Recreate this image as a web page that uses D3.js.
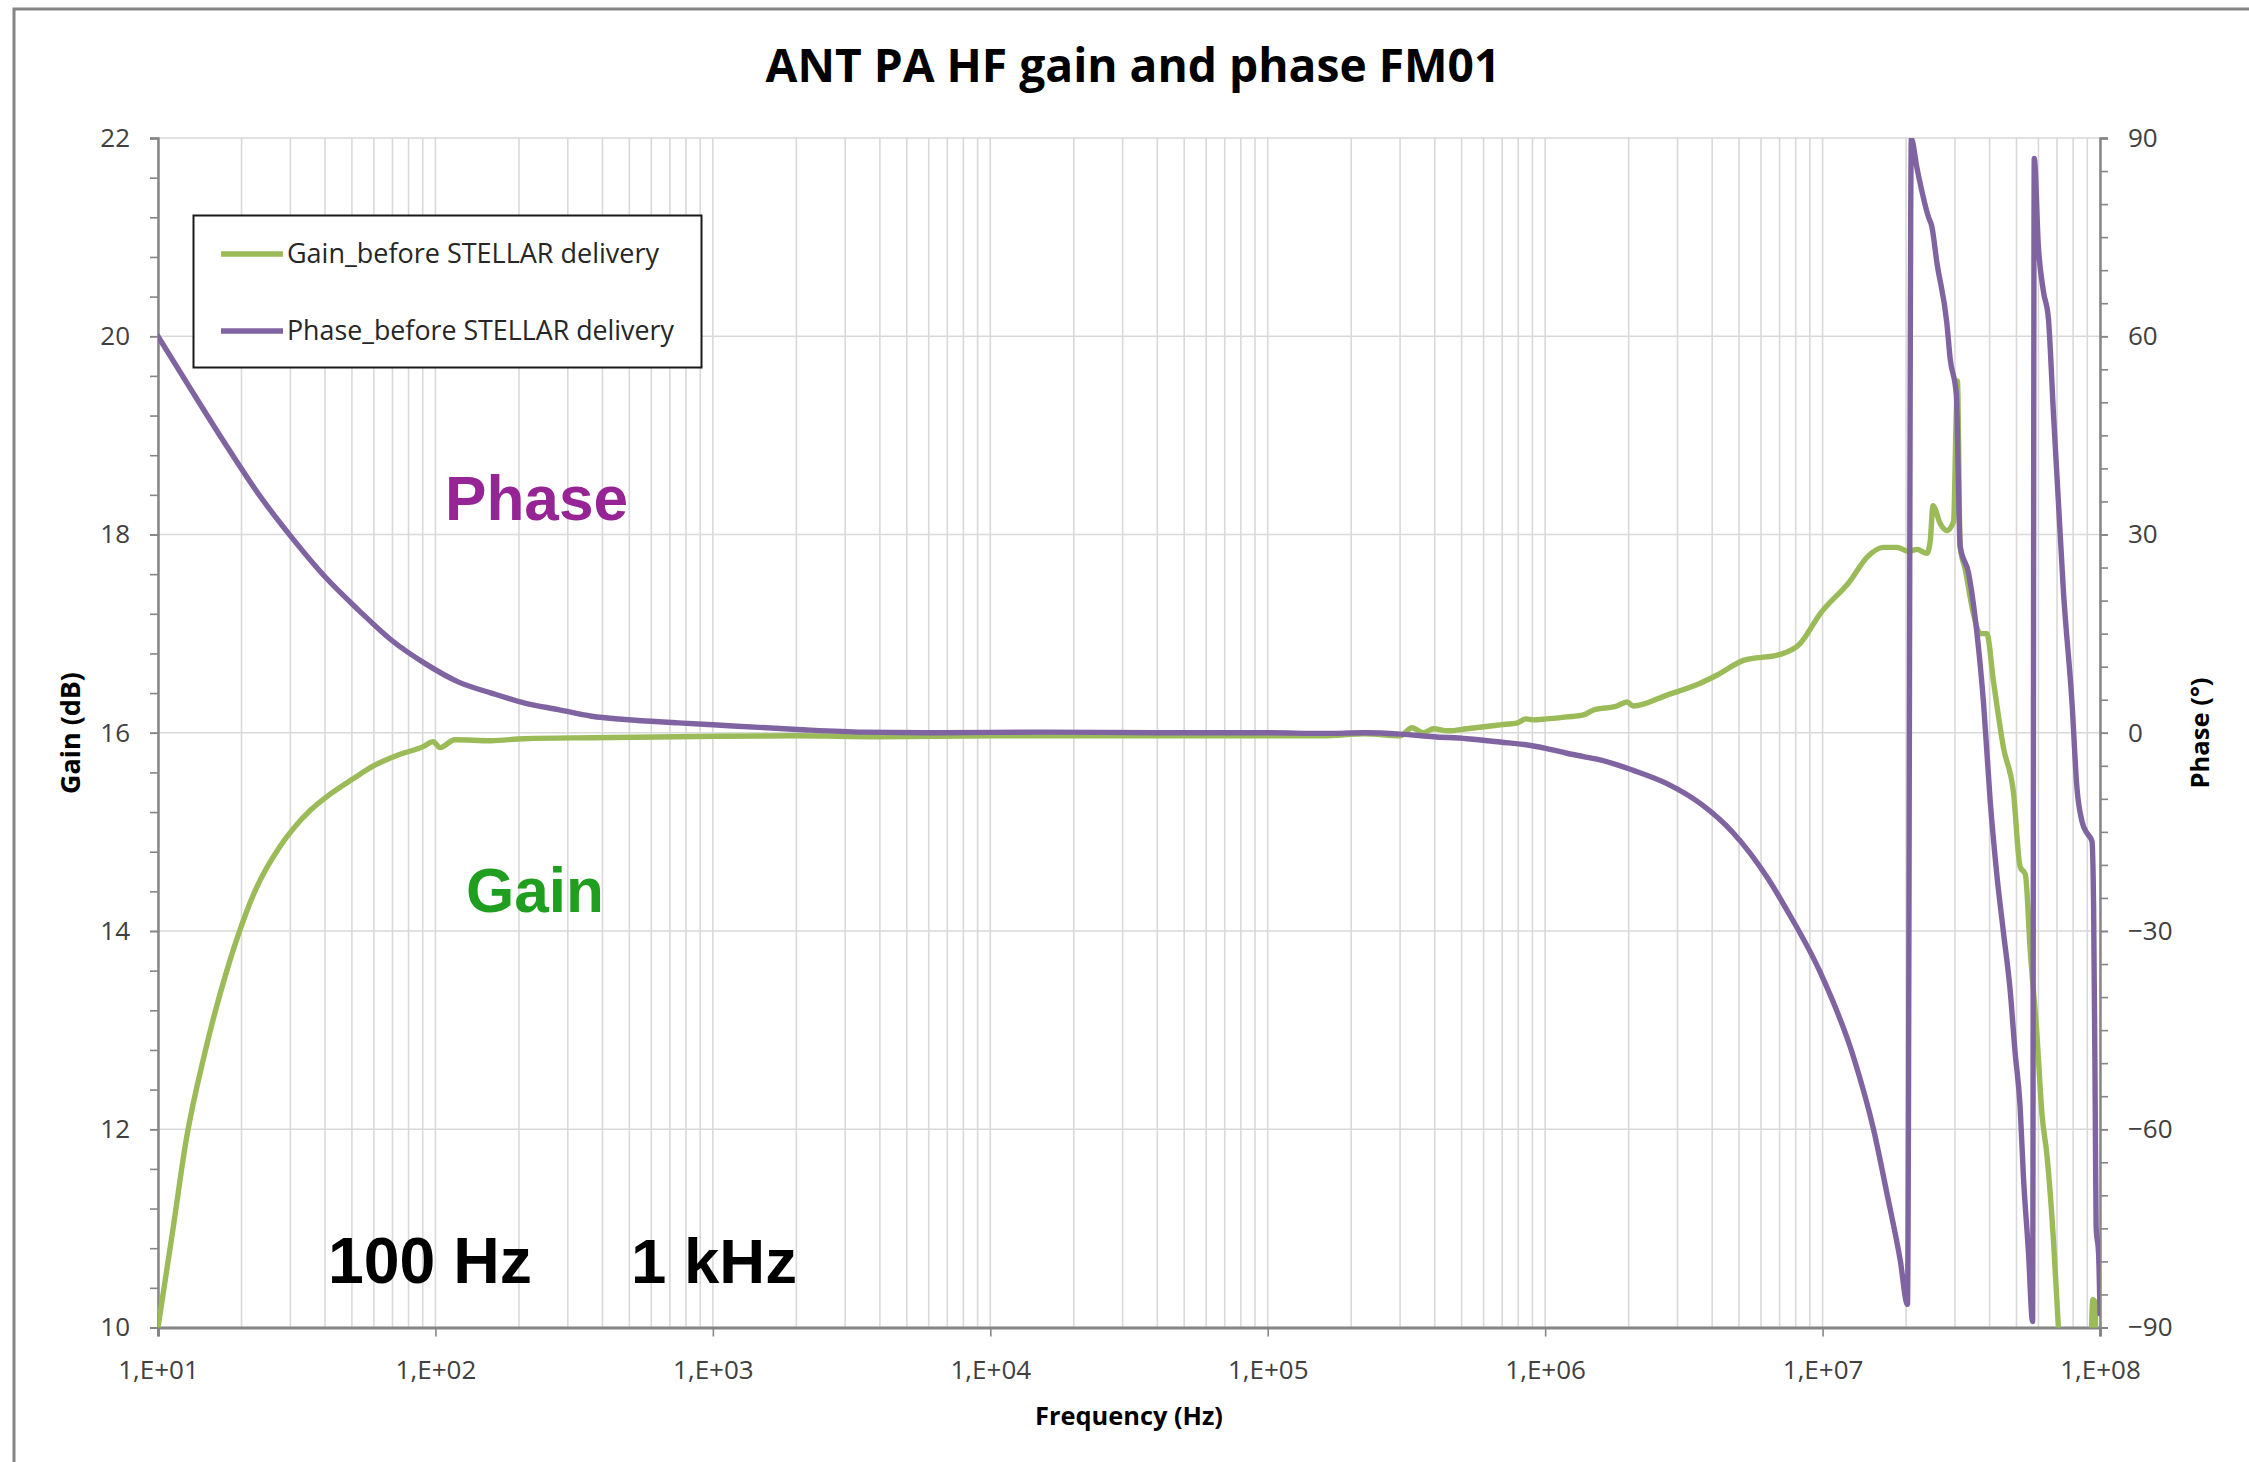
<!DOCTYPE html>
<html>
<head>
<meta charset="utf-8">
<script src="https://cdn.jsdelivr.net/npm/d3@7"></script>
<style>
  body { margin: 0; background: #fff; }
  svg { display: block; }
</style>
</head>
<body>
<svg id="chart" width="2249" height="1462"></svg>
<script>
// ---- data ----
const chartTitle = "ANT PA HF gain and phase FM01";
const seriesNames = ["Gain_before STELLAR delivery", "Phase_before STELLAR delivery"];

const xTickValues = [1e1, 1e2, 1e3, 1e4, 1e5, 1e6, 1e7, 1e8];
const xTickLabels = ["1,E+01", "1,E+02", "1,E+03", "1,E+04", "1,E+05", "1,E+06", "1,E+07", "1,E+08"];
const gainTicks = [10, 12, 14, 16, 18, 20, 22];
const phaseTicks = [-90, -60, -30, 0, 30, 60, 90];

// Gain sweep (Hz, dB)
const gainFreq = [
  10, 11.32, 12.65, 14.72, 17.66, 19.41, 22.34, 27.48, 30.69, 35.48,
  41.69, 50.12, 60.26, 74.13, 90.36, 98.17, 103.8, 117.5, 158.5, 208.9,
  363.1, 749.9, 1995, 3981, 10000, 31620, 100000, 158500, 223900, 300600,
  331100, 363100, 396300, 446700, 522400, 602600, 688700, 794300, 851100, 907800,
  1.014e6, 1.197e6, 1.374e6, 1.493e6, 1.816e6, 1.972e6, 2.080e6, 2.748e6, 3.622e6, 4.159e6,
  5.188e6, 7.031e6, 8.299e6, 9.795e6, 1.256e7, 1.445e7, 1.660e7, 1.854e7, 2.042e7, 2.188e7,
  2.377e7, 2.443e7, 2.500e7, 2.655e7, 2.805e7, 2.965e7, 3.034e7, 3.062e7, 3.133e7, 3.266e7,
  3.499e7, 3.698e7, 3.908e7, 4.130e7, 4.487e7, 4.875e7, 5.152e7, 5.383e7, 5.598e7, 5.916e7,
  6.180e7, 6.442e7, 6.792e7, 7.079e7, 7.413e7, 9.120e7, 9.419e7, 9.616e7, 9.705e7, 1e8
];
const gainDb = [
  10.0, 10.99, 11.90, 12.76, 13.59, 13.95, 14.40, 14.85, 15.03, 15.22,
  15.38, 15.53, 15.67, 15.78, 15.86, 15.91, 15.85, 15.93, 15.92, 15.94,
  15.95, 15.96, 15.97, 15.96, 15.97, 15.97, 15.97, 15.97, 15.99, 15.97,
  16.05, 16.00, 16.04, 16.02, 16.04, 16.06, 16.08, 16.10, 16.14, 16.13,
  16.14, 16.16, 16.18, 16.23, 16.27, 16.31, 16.27, 16.38, 16.50, 16.58,
  16.73, 16.79, 16.90, 17.20, 17.53, 17.77, 17.87, 17.87, 17.83, 17.85,
  17.81, 17.93, 18.29, 18.11, 18.04, 18.13, 19.23, 19.55, 17.88, 17.65,
  17.20, 17.00, 17.00, 16.52, 15.85, 15.40, 14.65, 14.57, 13.82, 12.98,
  12.15, 11.73, 10.89, 10.0, 9.0, 9.0, 10.28, 10.25, 9.0, 9.0
];

// Phase sweep (Hz, degrees)
const phaseFreq = [
  10, 13.21, 17.42, 22.96, 30.27, 39.99, 52.72, 69.50, 91.62, 120.8,
  159.2, 209.9, 277.3, 365.6, 482.0, 749.9, 1000, 2018, 3467, 6310,
  15850, 39810, 100000, 158500, 223900, 300600, 396300, 522400, 688700, 907800,
  1.014e6, 1.197e6, 1.374e6, 1.578e6, 2.080e6, 2.748e6, 3.622e6, 4.775e6, 6.295e6, 7.430e6,
  9.795e6, 1.291e7, 1.528e7, 1.706e7, 1.905e7, 2.023e7, 2.089e7, 2.188e7, 2.410e7, 2.477e7,
  2.582e7, 2.805e7, 2.884e7, 3.034e7, 3.133e7, 3.357e7, 3.548e7, 3.802e7, 4.018e7, 4.246e7,
  4.487e7, 4.742e7, 4.943e7, 5.152e7, 5.297e7, 5.521e7, 5.715e7, 5.794e7, 5.998e7, 6.252e7,
  6.516e7, 6.792e7, 7.079e7, 7.379e7, 7.925e7, 8.260e7, 8.610e7, 9.016e7, 9.354e7, 9.484e7,
  9.616e7, 9.683e7, 9.886e7, 1e8
];
const phaseDeg = [
  60.0, 51.8, 43.8, 36.2, 29.6, 23.6, 18.6, 14.0, 10.5, 7.7,
  6.0, 4.5, 3.5, 2.5, 2.0, 1.5, 1.2, 0.5, 0.1, 0.0,
  0.1, 0.0, 0.0, -0.1, 0.0, -0.2, -0.6, -0.9, -1.4, -2.0,
  -2.4, -3.1, -3.6, -4.1, -5.7, -7.7, -10.7, -15.2, -21.8, -26.8,
  -36.2, -49.0, -60.1, -69.7, -79.8, -86.5, 89.9, 85.5, 78.0, 76.6,
  71.2, 62.0, 56.6, 51.2, 28.2, 24.2, 17.4, 4.6, -10.2, -21.4,
  -30.2, -38.9, -48.4, -56.5, -67.2, -78.5, -89.1, 86.9, 73.5, 66.8,
  62.7, 48.5, 35.0, 21.5, 4.6, -8.4, -13.4, -15.3, -16.4, -26.4,
  -57.8, -74.7, -79.0, -87.9
];

// Text call-outs drawn inside the plot
const calloutTexts = ["Phase", "Gain", "100 Hz", "1 kHz"];
const calloutColors = ["#962495", "#1f9e1f", "#000000", "#000000"];

// ---- layout ----
const GAIN_COLOR = "#9BBB59";
const PHASE_COLOR = "#8064A2";
const LINE_WIDTH = 5.4;
const plot = { left: 158, right: 2100, top: 138, bottom: 1327.5 };

const svg = d3.select("#chart");

// sizes a text node so that its rendered width equals the given width
function fitWidth(sel, width) {
  const node = sel.node();
  const fs = parseFloat(sel.attr("font-size"));
  const len = node.getComputedTextLength();
  if (len > 0) sel.attr("font-size", (fs * width / len).toFixed(2));
  return sel;
}

svg.append("rect").attr("width", 2249).attr("height", 1462).attr("fill", "#fff");

// outer chart frame
svg.append("rect")
  .attr("x", 14).attr("y", 9).attr("width", 2400).attr("height", 1600)
  .attr("fill", "none").attr("stroke", "#858585").attr("stroke-width", 3);

const x = d3.scaleLog().domain([1e1, 1e8]).range([plot.left, plot.right]);
const yGain = d3.scaleLinear().domain([10, 22]).range([plot.bottom, plot.top]);
const yPhase = d3.scaleLinear().domain([-90, 90]).range([plot.bottom, plot.top]);

// gridlines
const grid = svg.append("g").attr("stroke", "#d9d9d9").attr("stroke-width", 1.6);
const vGrid = [];
for (let e = 1; e < 8; e++) for (let k = 1; k <= 9; k++) vGrid.push(k * Math.pow(10, e));
vGrid.push(1e8);
grid.selectAll("line.v").data(vGrid).join("line").attr("class", "v")
  .attr("x1", d => x(d)).attr("x2", d => x(d))
  .attr("y1", plot.top).attr("y2", plot.bottom);
grid.selectAll("line.h").data(gainTicks).join("line").attr("class", "h")
  .attr("x1", plot.left).attr("x2", plot.right)
  .attr("y1", d => yGain(d)).attr("y2", d => yGain(d));

// axes
const FONT = "'Open Sans', 'DejaVu Sans', sans-serif";
function styleAxis(g, width) {
  g.select(".domain").attr("stroke", "#868686").attr("stroke-width", width);
  g.selectAll(".tick line").attr("stroke", "#868686").attr("stroke-width", 1.6);
  g.selectAll(".tick text").attr("fill", "#404040").attr("font-family", FONT).attr("font-size", 26);
}

const gainMinor = d3.range(0, 31).map(i => +(10 + i * 0.4).toFixed(1));
const phaseMinor = d3.range(0, 37).map(i => -90 + i * 5);

const leftMinor = svg.append("g").attr("transform", `translate(${plot.left},0)`)
  .call(d3.axisLeft(yGain).tickValues(gainMinor).tickSize(8).tickFormat(""));
styleAxis(leftMinor, 2);
const leftAxis = svg.append("g").attr("transform", `translate(${plot.left},0)`)
  .call(d3.axisLeft(yGain).tickValues(gainTicks).tickSize(8).tickPadding(20).tickFormat(d3.format("d")));
styleAxis(leftAxis, 2);

const rightMinor = svg.append("g").attr("transform", `translate(${plot.right},0)`)
  .call(d3.axisRight(yPhase).tickValues(phaseMinor).tickSize(8).tickFormat(""));
styleAxis(rightMinor, 2);
const rightAxis = svg.append("g").attr("transform", `translate(${plot.right},0)`)
  .call(d3.axisRight(yPhase).tickValues(phaseTicks).tickSize(8).tickPadding(20).tickFormat(d3.format("d")));
styleAxis(rightAxis, 2);

const bottomAxis = svg.append("g").attr("transform", `translate(0,${plot.bottom})`)
  .call(d3.axisBottom(x).tickValues(xTickValues).tickSize(9).tickPadding(24)
    .tickFormat((d, i) => xTickLabels[i]));
styleAxis(bottomAxis, 3);

// series lines, clipped to the plot area
svg.append("clipPath").attr("id", "plotClip").append("rect")
  .attr("x", plot.left).attr("y", plot.top)
  .attr("width", plot.right - plot.left).attr("height", plot.bottom - plot.top);

const series = svg.append("g").attr("clip-path", "url(#plotClip)")
  .attr("fill", "none").attr("stroke-width", LINE_WIDTH)
  .attr("stroke-linejoin", "round").attr("stroke-linecap", "round");

const gainLine = d3.line().curve(d3.curveMonotoneX)
  .x((d, i) => x(gainFreq[i])).y(d => yGain(d));
const phaseLine = d3.line().curve(d3.curveMonotoneX)
  .x((d, i) => x(phaseFreq[i])).y(d => yPhase(d));

series.append("path").datum(gainDb).attr("stroke", GAIN_COLOR).attr("d", gainLine);
series.append("path").datum(phaseDeg).attr("stroke", PHASE_COLOR).attr("d", phaseLine);

// title
fitWidth(svg.append("text")
  .attr("x", 1133).attr("y", 82).attr("text-anchor", "middle")
  .attr("font-family", FONT).attr("font-weight", 700).attr("font-size", 44)
  .attr("fill", "#000").text(chartTitle), 735);

// axis titles
fitWidth(svg.append("text")
  .attr("transform", "translate(80,733) rotate(-90)").attr("text-anchor", "middle")
  .attr("font-family", FONT).attr("font-weight", 700).attr("font-size", 24)
  .attr("fill", "#000").text("Gain (dB)"), 122);
fitWidth(svg.append("text")
  .attr("transform", "translate(2209,733) rotate(-90)").attr("text-anchor", "middle")
  .attr("font-family", FONT).attr("font-weight", 700).attr("font-size", 24)
  .attr("fill", "#000").text("Phase (°)"), 111);
fitWidth(svg.append("text")
  .attr("x", 1129).attr("y", 1425).attr("text-anchor", "middle")
  .attr("font-family", FONT).attr("font-weight", 700).attr("font-size", 24)
  .attr("fill", "#000").text("Frequency (Hz)"), 188);

// legend
const legend = svg.append("g");
legend.append("rect").attr("x", 193.5).attr("y", 215.5).attr("width", 508).attr("height", 152)
  .attr("fill", "#fff").attr("stroke", "#1a1a1a").attr("stroke-width", 2);
const legendRows = [
  { name: seriesNames[0], color: GAIN_COLOR, y: 254, w: 372 },
  { name: seriesNames[1], color: PHASE_COLOR, y: 331, w: 387 }
];
legendRows.forEach(r => {
  legend.append("line").attr("x1", 221).attr("x2", 283).attr("y1", r.y).attr("y2", r.y)
    .attr("stroke", r.color).attr("stroke-width", LINE_WIDTH);
  fitWidth(legend.append("text").attr("x", 287).attr("y", r.y).attr("dy", "0.35em")
    .attr("font-family", FONT).attr("font-size", 24).attr("fill", "#262626")
    .text(r.name), r.w);
});

// call-out labels
const calloutPos = [
  { x: 445, y: 520, w: 183 },
  { x: 466, y: 912, w: 138 },
  { x: 328, y: 1283, w: 204 },
  { x: 631, y: 1283, w: 166 }
];
calloutTexts.forEach((t, i) => {
  fitWidth(svg.append("text").attr("x", calloutPos[i].x).attr("y", calloutPos[i].y)
    .attr("font-family", "'Liberation Sans', Arial, sans-serif").attr("font-weight", 700)
    .attr("font-size", 62).attr("fill", calloutColors[i]).text(t), calloutPos[i].w);
});
</script>
</body>
</html>
